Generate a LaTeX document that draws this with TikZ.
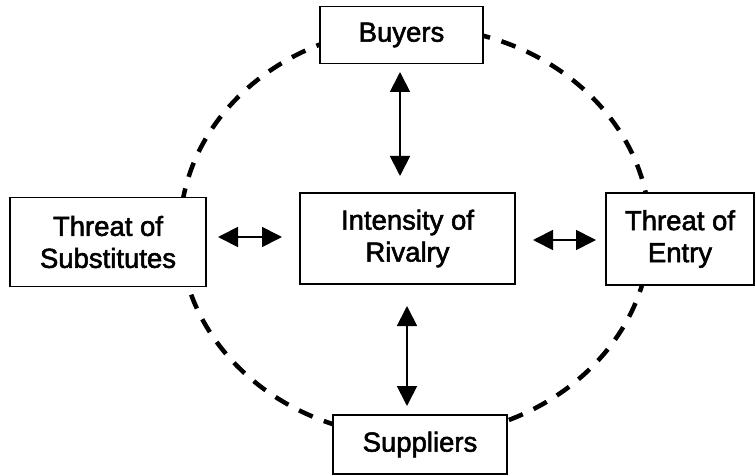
\documentclass[tikz,border=0pt]{standalone}
\usepackage{fontspec}
\setmainfont{Liberation Sans}
\newfontfamily\heavysans{Liberation Sans}[FakeBold=2]
\usetikzlibrary{arrows.meta}
\begin{document}
\begin{tikzpicture}[x=1pt,y=-1pt,
  box/.style={draw, line width=1.8pt, fill=white, align=center, inner sep=0pt,
    font=\heavysans\fontsize{27.5}{32}\selectfont},
  dbl/.style={line width=1.8pt,
    {Triangle[length=20pt,width=20pt]}-{Triangle[length=20pt,width=20pt]}},
  ring/.style={line width=4.5pt, dash pattern=on 15pt off 12pt}
]
\useasboundingbox (0,0) rectangle (756,476);
\draw[ring] (415,232) ellipse [x radius=235pt, y radius=205pt];
\node[box, minimum width=163pt, minimum height=57pt] (buy) at (401.5,35) {Buyers};
\node[box, minimum width=196pt, minimum height=89pt] (sub) at (108,242) {Threat of\\Substitutes};
\node[box, minimum width=215pt, minimum height=91pt] (riv) at (407.5,238.5) {Intensity of\\Rivalry};
\node[box, minimum width=148pt, minimum height=92pt] (ent) at (680,239) {Threat of\\Entry};
\node[box, minimum width=174pt, minimum height=59pt] (sup) at (420,444.5) {Suppliers};
\coordinate (t1) at (400,72);
\coordinate (t2) at (400,176);
\coordinate (b1) at (407,306);
\coordinate (b2) at (407,406);
\coordinate (l1) at (218,237);
\coordinate (l2) at (282,237);
\coordinate (r1) at (533,240);
\coordinate (r2) at (596,240);
\draw[dbl] (t1) -- (t2);
\draw[dbl] (b1) -- (b2);
\draw[dbl] (l1) -- (l2);
\draw[dbl] (r1) -- (r2);
\end{tikzpicture}
\end{document}
